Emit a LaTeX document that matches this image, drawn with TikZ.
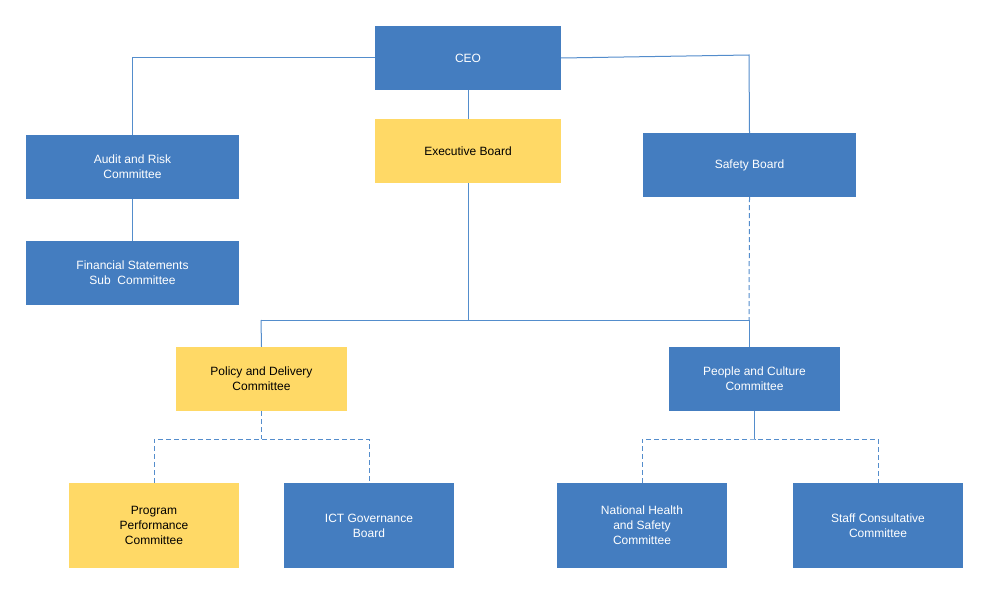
\documentclass[tikz,border=0pt]{standalone}
\usepackage{fontspec}
\setmainfont{Liberation Sans}
\definecolor{bx}{RGB}{68,125,192}
\definecolor{yl}{RGB}{255,217,102}
\definecolor{ln}{RGB}{84,141,204}
\begin{document}
\begin{tikzpicture}[x=1pt,y=-1pt,
 box/.style={fill=bx,text=white,align=center,font=\fontsize{12}{15}\selectfont,inner sep=0},
 ybox/.style={box,fill=yl,text=black},
 con/.style={draw=ln,line width=1pt},
 dcon/.style={con,dash pattern=on 5pt off 3pt}]
\fill[white] (0,0) rectangle (990,594);
\newcommand\bx[6]{\node[#1,minimum width=#4-#3,minimum height=#6-#5] (#2) at ({(#3+#4)/2},{(#5+#6)/2}) {};}
\node[box,minimum width=186,minimum height=64] (ceo) at (468,58) {CEO};
\node[ybox,minimum width=186,minimum height=64] (exec) at (468,151) {Executive Board};
\node[box,minimum width=213,minimum height=64] (audit) at (132.5,167) {Audit and Risk\\Committee};
\node[box,minimum width=213,minimum height=64] (fin) at (132.5,273) {Financial Statements\\Sub\ \ Committee};
\node[box,minimum width=213,minimum height=64] (safety) at (749.5,165) {Safety Board};
\node[ybox,minimum width=171,minimum height=64] (policy) at (261.5,379) {Policy and Delivery\\Committee};
\node[box,minimum width=171,minimum height=64] (people) at (754.5,379) {People and Culture\\Committee};
\node[ybox,minimum width=170,minimum height=85] (prog) at (154,525.5) {Program\\Performance\\Committee};
\node[box,minimum width=170,minimum height=85] (ict) at (369,525.5) {ICT Governance\\Board};
\node[box,minimum width=170,minimum height=85] (nat) at (642,525.5) {National Health\\and Safety\\Committee};
\node[box,minimum width=170,minimum height=85] (staff) at (878,525.5) {Staff Consultative\\Committee};
\coordinate (jl) at (261,320); \coordinate (jr) at (749,320); \coordinate (jm) at (468,320);
\coordinate (pj) at (261.5,439); \coordinate (qj) at (754.5,439);
\draw[con] (ceo.west) -| (audit.north);
\draw[con] (ceo.east) -- (749,55) -- (safety.north);
\draw[con] (ceo) -- (exec);
\draw[con] (audit) -- (fin);
\draw[con] (exec.south) -- (jm);
\draw[con] (jl) -- (jr);
\draw[dcon] (safety.south) -- (jr);
\draw[con] (jl) -- (policy.north);
\draw[con] (jr) -- (749,347);
\draw[dcon] (policy.south) -- (pj);
\draw[dcon] (prog.north) |- (pj) -| (ict.north);
\draw[con] (people.south) -- (qj);
\draw[dcon] (nat.north) |- (qj) -| (staff.north);
\end{tikzpicture}
\end{document}
